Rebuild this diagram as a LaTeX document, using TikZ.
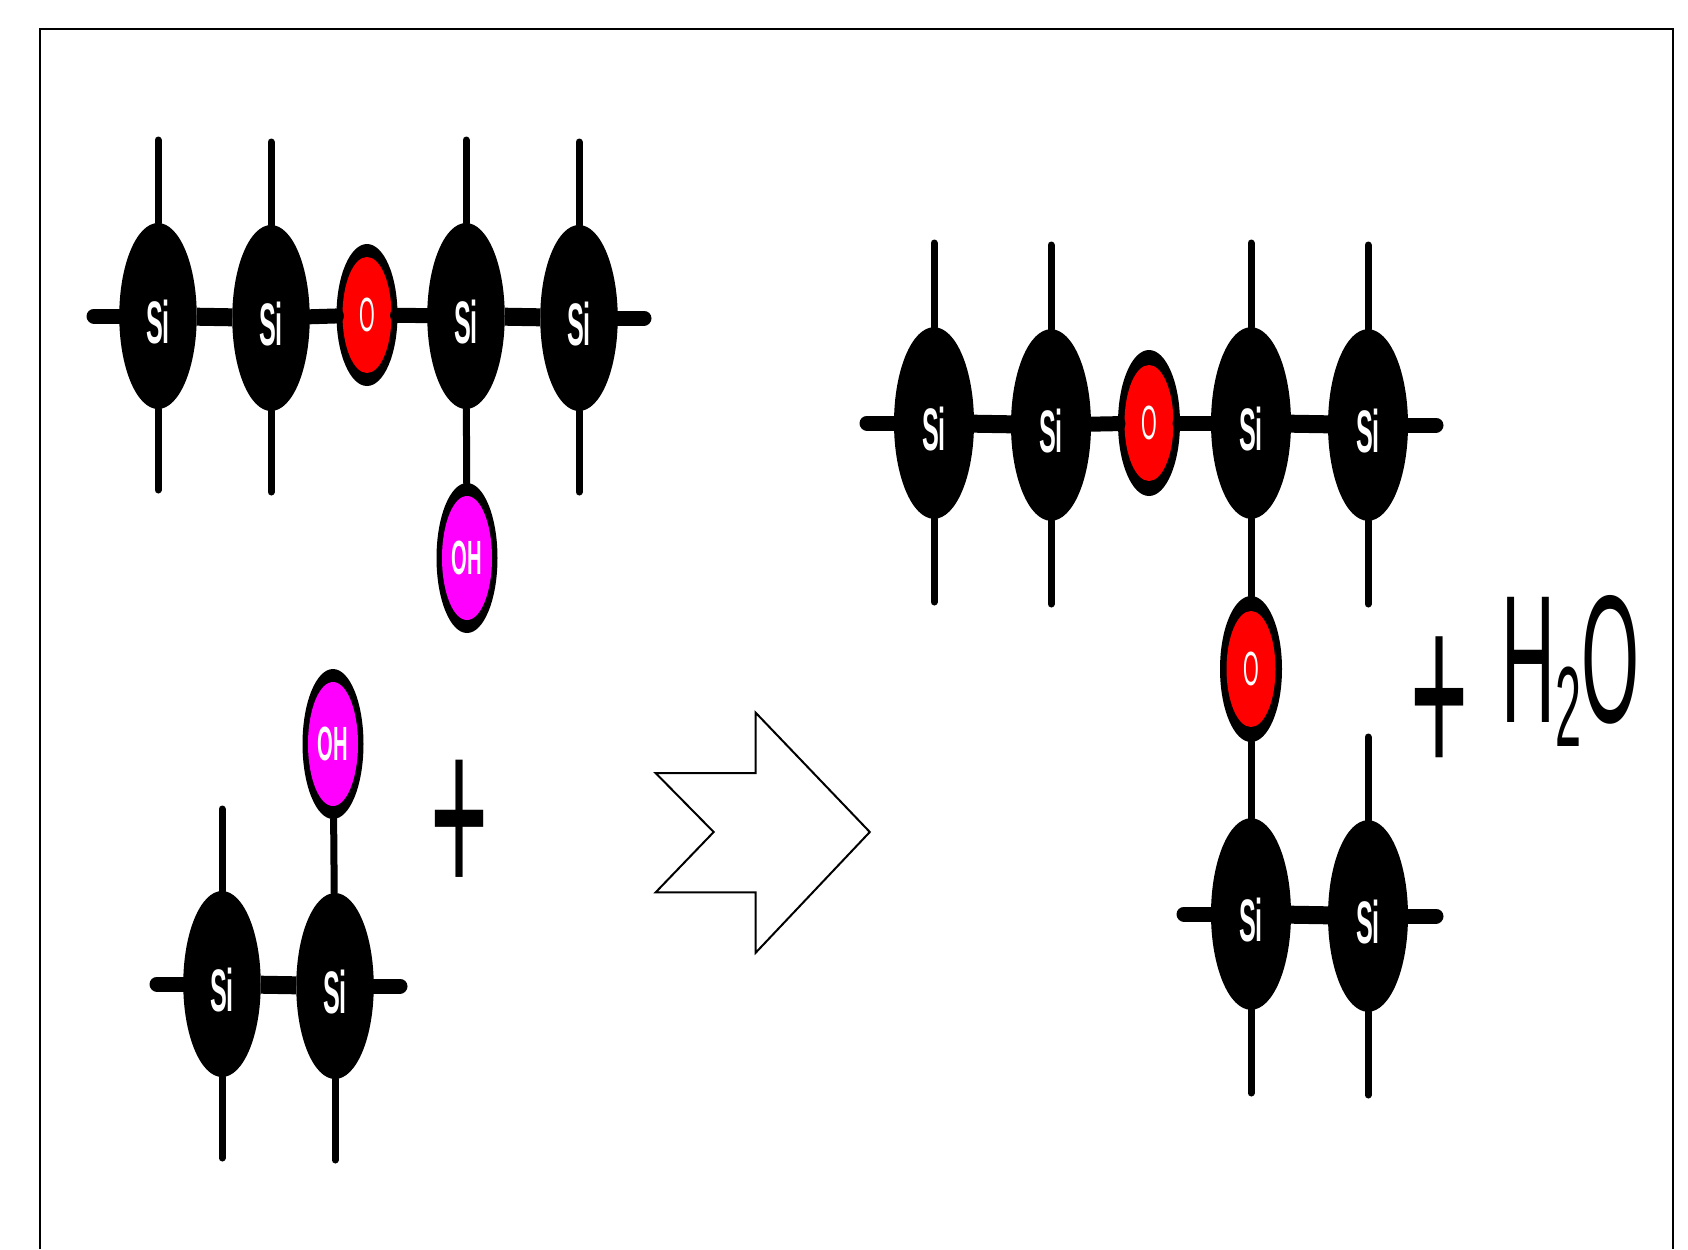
\documentclass[tikz,border=0pt]{standalone}
\usepackage{graphicx}
\usepackage{fontspec}
\setmainfont{Liberation Sans}
\usetikzlibrary{shapes.geometric}
\definecolor{oxred}{RGB}{255,0,0}
\definecolor{ohpink}{RGB}{255,0,255}
\newcommand{\narrow}[1]{\scalebox{0.42}[1]{#1}}
\newcommand{\sitext}{\raisebox{-13.5pt}[15pt][15pt]{\scalebox{0.42}[1]{Si}}}

\begin{document}
\begin{tikzpicture}[x=0.5pt, y=-0.5pt,
  si/.style = {ellipse, fill=black, text=white, inner sep=0pt, outer sep=0pt,
                   minimum width=38.75pt, minimum height=93pt,
                   font=\fontsize{30}{30}\selectfont\bfseries},
  sibig/.style = {si, minimum width=40pt, minimum height=95.8pt},
  oxy/.style = {ellipse, fill=black, text=white, inner sep=0pt, outer sep=0pt,
                   minimum width=30.5pt, minimum height=71pt,
                   font=\fontsize{24}{24}\selectfont,
                   path picture={\fill[oxred] (path picture bounding box.center) ellipse (12.25pt and 29pt);}},
  hydroxyl/.style = {oxy, minimum height=75pt, font=\fontsize{24}{24}\selectfont\bfseries,
                   path picture={\fill[ohpink] (path picture bounding box.center) ellipse (12.5pt and 31pt);}},
  bond/.style = {line width=7.5pt, line cap=round},
  bondwide/.style = {line width=9pt},
  stem/.style = {line width=3.5pt, line cap=round},
  sign/.style = {inner sep=0pt, font=\fontsize{127.5}{127.5}\selectfont}
                    ]
\useasboundingbox (0,0) rectangle (1688,1249);
\draw [line width=1pt] (40.3,1249) -- (40.3,28.5) -- (1672.6,28.5) -- (1672.6,1249);

% upper left chain
\node (a1) [si] at (158,316) {\sitext};
\node (a2) [si] at (271,318) {\sitext};
\node (a3) [oxy] at (367,315) {\narrow{O}};
\node (a4) [si] at (466,316) {\sitext};
\node (a5) [si] at (579,318) {\sitext};
\node (aoh) [hydroxyl] at (467,558) {\narrow{OH}};
\coordinate (aleft) at (94,316);
\coordinate (aright) at (644,318);
\coordinate (a1t) at (158,140);
\coordinate (a1b) at (158,490);
\coordinate (a2t) at (271,142);
\coordinate (a2b) at (271,492);
\coordinate (a4t) at (466,140);
\coordinate (a5t) at (579,142);
\coordinate (a5b) at (579,492);
\draw [bond] (aleft) -- (a1);
\draw [bondwide] (a1) -- (a2);
\draw [bond] (a2) -- (a3);
\draw [bond] (a3) -- (a4);
\draw [bondwide] (a4) -- (a5);
\draw [bond] (a5) -- (aright);
\draw [stem] (a1) -- (a1t);
\draw [stem] (a1) -- (a1b);
\draw [stem] (a2) -- (a2t);
\draw [stem] (a2) -- (a2b);
\draw [stem] (a4) -- (a4t);
\draw [stem] (a4) -- (aoh);
\draw [stem] (a5) -- (a5t);
\draw [stem] (a5) -- (a5b);

% lower left chain
\node (b1) [si] at (222,984) {\sitext};
\node (b2) [si] at (335,986) {\sitext};
\node (boh) [hydroxyl] at (333,744) {\narrow{OH}};
\coordinate (bleft) at (157,984);
\coordinate (bright) at (400,986);
\coordinate (b1t) at (222,809);
\coordinate (b1b) at (222,1158);
\coordinate (b2b) at (335,1160);
\draw [bond] (bleft) -- (b1);
\draw [bondwide] (b1) -- (b2);
\draw [bond] (b2) -- (bright);
\draw [stem] (b1) -- (b1t);
\draw [stem] (b1) -- (b1b);
\draw [stem] (b2) -- (b2b);
\draw [stem] (b2) -- (boh);
\node (plusa) [sign] at (460,829) {\scalebox{0.39}[0.94]{+}};

% reaction arrow
\draw [line width=1pt] (655.6,773) -- (755.7,773) -- (755.7,712.7) -- (869.8,832)
  -- (755.7,952.7) -- (755.7,892.4) -- (655.6,892.4) -- (713.7,832) -- cycle;

% product
\node (c1) [sibig] at (934,423) {\sitext};
\node (c2) [sibig] at (1051,425) {\sitext};
\node (c3) [oxy, minimum width=31pt, minimum height=73pt] at (1149,423) {\narrow{O}};
\node (c4) [sibig] at (1251,423) {\sitext};
\node (c5) [sibig] at (1368,425) {\sitext};
\node (c6) [oxy, minimum width=31pt, minimum height=73pt] at (1251,669) {\narrow{O}};
\node (d1) [sibig] at (1251,914) {\sitext};
\node (d2) [sibig] at (1368,916) {\sitext};
\coordinate (cleft) at (867,423);
\coordinate (cright) at (1436,425);
\coordinate (dleft) at (1184,914);
\coordinate (dright) at (1436,916);
\coordinate (c1t) at (934,243);
\coordinate (c1b) at (934,602);
\coordinate (c2t) at (1051,245);
\coordinate (c2b) at (1051,604);
\coordinate (c4t) at (1251,243);
\coordinate (c5t) at (1368,245);
\coordinate (c5b) at (1368,604);
\coordinate (d1b) at (1251,1093);
\coordinate (d2t) at (1368,737);
\coordinate (d2b) at (1368,1095);
\draw [bond] (cleft) -- (c1);
\draw [bondwide] (c1) -- (c2);
\draw [bond] (c2) -- (c3);
\draw [bond] (c3) -- (c4);
\draw [bondwide] (c4) -- (c5);
\draw [bond] (c5) -- (cright);
\draw [bond] (dleft) -- (d1);
\draw [bondwide] (d1) -- (d2);
\draw [bond] (d2) -- (dright);
\draw [stem] (c1) -- (c1t);
\draw [stem] (c1) -- (c1b);
\draw [stem] (c2) -- (c2t);
\draw [stem] (c2) -- (c2b);
\draw [stem] (c4) -- (c4t);
\draw [stem] (c4) -- (c6);
\draw [stem] (c6) -- (d1);
\draw [stem] (c5) -- (c5t);
\draw [stem] (c5) -- (c5b);
\draw [stem] (d1) -- (d1b);
\draw [stem] (d2) -- (d2t);
\draw [stem] (d2) -- (d2b);

\node (plusb) [sign] at (1440,708) {\scalebox{0.39}[0.97]{+}};
\node (water) [anchor=base west, inner sep=0pt, font=\fontsize{91}{91}\selectfont] at (1501,722.7)
  {\scalebox{0.41}[1]{H\raisebox{-12pt}{\fontsize{57}{57}\selectfont 2}O}};
\end{tikzpicture}
\end{document}
